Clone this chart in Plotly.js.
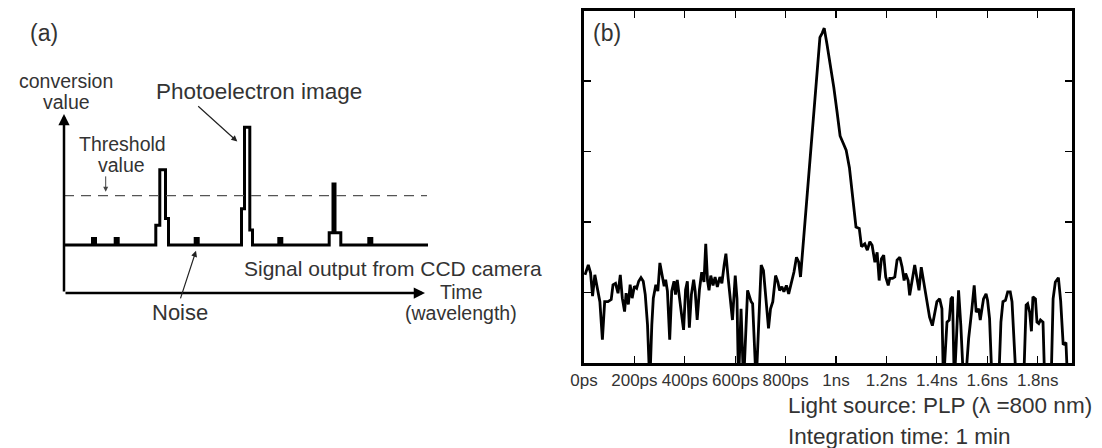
<!DOCTYPE html>
<html><head><meta charset="utf-8">
<script src="https://cdn.plot.ly/plotly-3.0.1.min.js"></script>
<style>html,body{margin:0;padding:0;background:#fff}#chart{width:1102px;height:448px}</style>
</head><body><div id="chart"></div>
<script>
// ---------- Panel (b): measured signal ----------
const timeNs = [
  0.004,0.017,0.026,0.034,0.043,0.052,0.063,0.073,0.082,0.095,
  0.108,0.115,0.125,0.135,0.144,0.152,0.161,0.167,0.176,0.183,
  0.191,0.200,0.209,0.217,0.226,0.235,0.243,0.252,0.261,0.269,
  0.275,0.285,0.293,0.301,0.308,0.318,0.324,0.331,0.340,0.348,
  0.357,0.363,0.370,0.379,0.387,0.395,0.403,0.410,0.418,0.426,
  0.435,0.441,0.449,0.458,0.467,0.476,0.483,0.490,0.496,0.503,
  0.512,0.520,0.529,0.539,0.547,0.556,0.563,0.572,0.580,0.589,
  0.600,0.607,0.613,0.623,0.633,0.649,0.663,0.669,0.683,0.693,
  0.703,0.712,0.723,0.732,0.740,0.749,0.760,0.769,0.776,0.785,
  0.793,0.803,0.812,0.823,0.833,0.843,0.852,0.859,0.867,0.876,
  0.886,0.900,0.913,0.925,0.936,0.945,0.953,0.964,0.978,0.991,
  1.004,1.016,1.028,1.040,1.053,1.068,1.079,1.092,1.101,1.114,
  1.124,1.134,1.143,1.154,1.163,1.171,1.180,1.189,1.197,1.207,
  1.213,1.224,1.233,1.242,1.253,1.262,1.270,1.276,1.286,1.292,
  1.303,1.312,1.321,1.329,1.338,1.347,1.358,1.364,1.371,1.382,
  1.391,1.400,1.411,1.420,1.426,1.440,1.449,1.456,1.462,1.469,
  1.477,1.486,1.495,1.506,1.513,1.526,1.539,1.548,1.556,1.566,
  1.572,1.585,1.595,1.601,1.609,1.619,1.645,1.654,1.662,1.672,
  1.681,1.691,1.698,1.707,1.715,1.744,1.754,1.760,1.768,1.775,
  1.781,1.791,1.797,1.804,1.811,1.821,1.828,1.853,1.861,1.870,
  1.882,1.891,1.901,1.912,1.919,1.936
];
const intensity = [
  1.25,1.39,1.28,0.95,1.25,1.09,0.87,0.33,0.87,0.87,
  0.90,1.11,1.13,0.99,1.25,0.92,0.73,0.99,0.83,1.11,
  0.92,1.09,1.06,1.16,1.21,1.16,0.97,0.54,-0.3,0.54,
  0.92,1.11,1.02,1.42,1.28,1.09,1.18,1.02,0.33,1.02,
  1.16,0.97,1.18,0.87,0.69,0.47,1.04,1.16,0.50,0.97,
  1.18,1.02,0.61,1.04,1.29,1.15,1.69,1.17,1.03,1.24,
  1.10,1.22,1.08,1.22,1.13,1.39,1.55,1.20,0.89,0.61,
  1.24,0.91,-0.3,0.77,-0.3,1.03,0.87,0.84,-0.3,0.53,
  1.39,1.31,0.91,0.49,0.77,0.87,1.24,1.15,1.03,1.08,
  1.01,1.10,0.98,1.15,1.29,1.50,1.43,1.22,1.57,1.97,
  2.40,3.03,3.57,4.10,4.62,4.68,4.75,4.52,4.22,3.91,
  3.56,3.22,3.12,3.02,2.77,2.31,1.93,1.91,1.65,1.69,
  1.60,1.72,1.67,1.43,1.57,1.17,1.48,1.53,1.22,1.10,
  1.20,1.20,1.22,1.46,1.50,1.36,1.17,1.27,1.17,0.96,
  1.22,1.39,1.20,1.03,1.36,1.17,0.98,0.79,0.65,0.53,
  0.72,0.87,0.91,0.77,-0.3,0.58,0.61,0.91,0.94,-0.3,
  0.30,1.03,0.53,-0.3,-0.3,0.35,0.77,1.10,0.72,0.77,
  0.61,0.91,0.98,0.89,0.63,-0.3,-0.3,0.58,0.87,0.89,
  1.01,1.01,0.87,0.30,-0.3,-0.3,0.82,0.84,0.72,0.45,
  0.94,0.91,0.58,0.56,0.61,0.58,-0.3,-0.3,0.91,1.15,
  1.21,0.88,0.26,0.29,-0.3,-0.3
];
const xTickVals = [0,0.2,0.4,0.6,0.8,1.0,1.2,1.4,1.6,1.8];
const xTickText = ['0ps','200ps','400ps','600ps','800ps','1ns','1.2ns','1.4ns','1.6ns','1.8ns'];
const yTickVals = [1,2,3,4];

// ---------- Panel (a): schematic CCD signal ----------
const schemTime = [
  0,
  28.5,28.5,31.5,31.5,
  51.2,51.2,54.2,54.2,
  91.8,91.8,95.8,95.8,101.5,101.5,104.5,104.5,
  131.2,131.2,134.2,134.2,
  177.5,177.5,180.5,180.5,185.8,185.8,188.5,188.5,
  214.8,214.8,217.8,217.8,
  265.2,265.2,269,269,271,271,276.8,276.8,
  304.8,304.8,307.8,307.8,
  364
];
const schemValue = [
  1,
  1,1.26,1.26,1,
  1,1.26,1.26,1,
  1,1.80,1.80,4.05,4.05,2.07,2.07,1,
  1,1.26,1.26,1,
  1,2.47,2.47,5.77,5.77,1.60,1.60,1,
  1,1.26,1.26,1,
  1,1.49,1.49,3.47,3.47,1.49,1.49,1,
  1,1.26,1.26,1,
  1
];
const thresholdTime = [0, 363];
const thresholdValue = [3, 3];

const W = 1102, H = 448;
const px = v => v / W;
const py = v => 1 - v / H;
const FONT = 'Liberation Sans, Arial, Helvetica, sans-serif';
const TXT = '#333';

const traces = [
  {x: timeNs, y: intensity, xaxis: 'x', yaxis: 'y', mode: 'lines', type: 'scatter',
   line: {color: '#000', width: 2.8}, hoverinfo: 'skip'},
  {x: schemTime, y: schemValue, xaxis: 'x2', yaxis: 'y2', mode: 'lines', type: 'scatter',
   line: {color: '#000', width: 3, shape: 'linear'}, hoverinfo: 'skip'},
  {x: thresholdTime, y: thresholdValue, xaxis: 'x2', yaxis: 'y2', mode: 'lines', type: 'scatter',
   line: {color: '#555', width: 1.3, dash: '10px,7px'}, hoverinfo: 'skip'}
];

function txt(text, x, y, size, anchor) {
  return {text: text, xref: 'paper', yref: 'paper', x: px(x), y: py(y),
    xanchor: anchor || 'center', yanchor: 'middle', showarrow: false, borderpad: 0,
    font: {family: FONT, size: size, color: TXT}};
}
function arrow(hx, hy, tx, ty, w, size, color) {
  return {xref: 'x2', yref: 'y2', axref: 'x2', ayref: 'y2', x: hx, y: hy, ax: tx, ay: ty,
    text: '', showarrow: true, arrowhead: 2, arrowsize: size, arrowwidth: w,
    arrowcolor: color || '#000', standoff: 0, startstandoff: 0};
}

const annotations = [
  txt('(a)', 44, 33, 23),
  txt('(b)', 607, 33, 23),
  txt('conversion', 66, 81, 19.5),
  txt('value', 66, 102, 19.5),
  txt('Photoelectron image', 155, 92, 22.5, 'left'),
  txt('Threshold', 122, 144, 19.5),
  txt('value', 121, 165, 19.5),
  txt('Signal output from CCD camera', 243, 268, 21, 'left'),
  txt('Noise', 180, 312, 22),
  txt('Time', 461, 292, 19.5),
  txt('(wavelength)', 461, 313, 19.5),
  txt('Light source: PLP (\u03bb =800 nm)', 787, 405, 22.5, 'left'),
  txt('Integration time: 1 min', 787, 436, 22.5, 'left'),
  arrow(0, 6.31, 0, -0.95, 2.5, 0.9),
  arrow(361, -0.95, 0, -0.95, 2.5, 0.9),
  arrow(173.3, 5.19, 132.7, 6.68, 1.2, 1.0, '#222'),
  arrow(41.7, 3.16, 41.7, 3.84, 1, 1.0, '#444'),
  arrow(132, 0.76, 116, -1.23, 1.2, 1.0, '#222')
];

const layout = {
  width: W, height: H,
  margin: {l: 0, r: 0, t: 0, b: 0, pad: 0},
  paper_bgcolor: '#fff', plot_bgcolor: '#fff',
  showlegend: false,
  xaxis: {domain: [px(584), px(1072)], range: [0, 1.936], showline: true, mirror: 'ticks',
    linecolor: '#000', linewidth: 3, ticks: 'inside', ticklen: 7, tickwidth: 1.2, tickcolor: '#000',
    tickvals: xTickVals, ticktext: xTickText, showgrid: false, zeroline: false,
    tickfont: {family: FONT, size: 17, color: TXT}, fixedrange: true},
  yaxis: {domain: [py(363), py(10.5)], range: [0, 5], showline: true, mirror: 'ticks',
    linecolor: '#000', linewidth: 3, ticks: 'inside', ticklen: 7, tickwidth: 1.2, tickcolor: '#000',
    tickvals: yTickVals, showticklabels: false, showgrid: false, zeroline: false, fixedrange: true},
  xaxis2: {domain: [px(64), px(430)], range: [0, 366], visible: false, anchor: 'y2', fixedrange: true},
  yaxis2: {domain: [py(293), py(113)], range: [-0.95, 6.35], visible: false, anchor: 'x2', fixedrange: true},
  annotations: annotations
};

Plotly.newPlot('chart', traces, layout, {staticPlot: true, displayModeBar: false});
</script>
</body></html>
